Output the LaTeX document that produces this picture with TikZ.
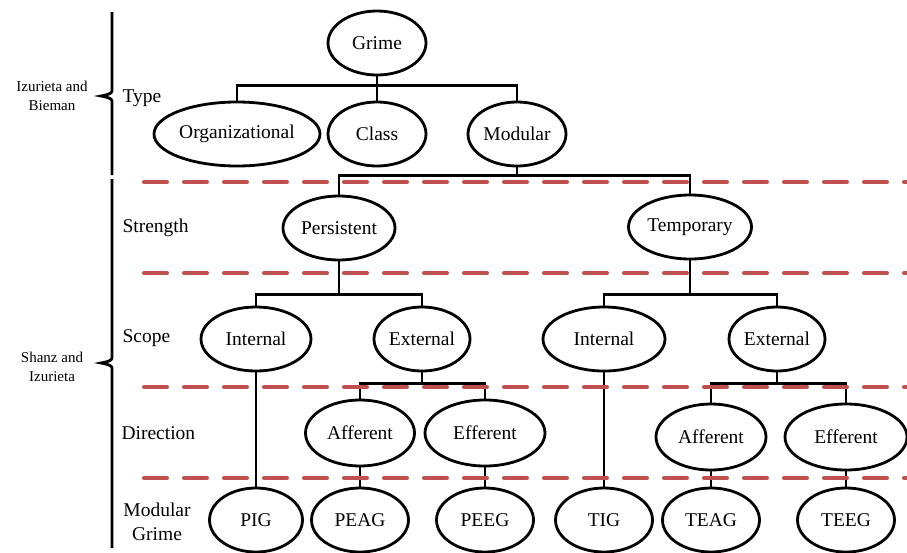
\documentclass[tikz,border=0pt]{standalone}
\usepackage{fontspec}
\setmainfont{Liberation Serif}
\usetikzlibrary{shapes.geometric,positioning}
\definecolor{dashred}{RGB}{192,80,77}
\tikzset{
  cat/.style={ellipse,draw=black,line width=2.8pt,inner sep=0pt,minimum width=#1,minimum height=64pt,font=\fontsize{19.5}{21}\selectfont},
  cat/.default=98pt,
  link/.style={draw=black,line width=2.6pt},
  sep/.style={draw=dashred,line width=4pt,dash pattern=on 23pt off 17pt,line cap=round},
  lvl/.style={anchor=west,font=\fontsize{19.5}{24}\selectfont},
  src/.style={font=\fontsize{15}{19}\selectfont,align=center},
  bracket/.style={draw=black,line width=2.8pt}
}

\begin{document}
\begin{tikzpicture}[x=1pt,y=-1pt]
  \useasboundingbox (0,0) rectangle (907,552);

  % grouping on the left
  \node[src] (izb) at (52,96) {Izurieta and\\Bieman};
  \node[src] (shi) at (52,367) {Shanz and\\Izurieta};
  \draw[bracket] (112,12) -- (112,91) .. controls (112,94) and (106,95) .. (101,96)
    .. controls (106,97) and (112,98) .. (112,101) -- (112,175);
  \draw[bracket] (112,179) -- (112,358) .. controls (112,361) and (106,362) .. (101,363)
    .. controls (106,364) and (112,365) .. (112,368) -- (112,548);

  % level names
  \node[lvl] (type) at (119,98) {Type};
  \node[lvl] (strength) at (119,228) {Strength};
  \node[lvl] (scope) at (119,338) {Scope};
  \node[lvl] (direction) at (118,433) {Direction};
  \node[lvl,align=center,anchor=center] (mgrime) at (157,522) {Modular\\Grime};

  % tree
  \node[cat] (grime) at (377,43) {Grime};
  \node[cat=166pt] (org) at (237,134) {Organizational};
  \node[cat] (cls) at (377,134) {Class};
  \node[cat] (modular) at (517,134) {Modular};

  \node[cat=112pt] (persist) at (339,228) {Persistent};
  \node[cat=123pt] (temp) at (690,227) {Temporary};

  \node[cat=110pt] (intP) at (256,339) {Internal};
  \node[cat=96pt] (extP) at (422,339) {External};
  \node[cat=122pt] (intT) at (604,339) {Internal};
  \node[cat=96pt] (extT) at (777,339) {External};

  \node[cat=109pt,minimum height=66pt] (affP) at (360,433) {Afferent};
  \node[cat=120pt,minimum height=66pt] (effP) at (485,433) {Efferent};
  \node[cat=110pt,minimum height=66pt] (affT) at (711,437) {Afferent};
  \node[cat=122pt,minimum height=66pt] (effT) at (846,437) {Efferent};

  \node[cat=93pt] (pig) at (256,520) {PIG};
  \node[cat=97pt] (peag) at (360,520) {PEAG};
  \node[cat=97pt] (peeg) at (485,520) {PEEG};
  \node[cat=97pt] (tig) at (604,520) {TIG};
  \node[cat=97pt] (teag) at (711,520) {TEAG};
  \node[cat=97pt] (teeg) at (846,520) {TEEG};

  \draw[link] (grime.south) -- ++(0,9) coordinate (gbar) -| (org.north);
  \draw[link] (gbar) -| (cls.north);
  \draw[link] (gbar) -| (modular.north);

  \draw[link] (modular.south) -- ++(0,8) coordinate (mbar) -| (persist.north);
  \draw[link] (mbar) -| (temp.north);

  \draw[link] (persist.south) -- ++(0,33) coordinate (pbar) -| (intP.north);
  \draw[link] (pbar) -| (extP.north);
  \draw[link] (temp.south) -- ++(0,34) coordinate (tbar) -| (intT.north);
  \draw[link] (tbar) -| (extT.north);

  \draw[link] (extP.south) -- ++(0,11) coordinate (epbar) -| (affP.north);
  \draw[link] (epbar) -| (effP.north);
  \draw[link] (extT.south) -- ++(0,11) coordinate (etbar) -| (affT.north);
  \draw[link] (etbar) -| (effT.north);

  \draw[link] (intP.south) -- (pig.north);
  \draw[link] (affP.south) -- (peag.north);
  \draw[link] (effP.south) -- (peeg.north);
  \draw[link] (intT.south) -- (tig.north);
  \draw[link] (affT.south) -- (teag.north);
  \draw[link] (effT.south) -- (teeg.north);

  % level separators
  \foreach \y in {182,273,387,478}
    \draw[sep] (144,\y) -- (912,\y);
\end{tikzpicture}
\end{document}
